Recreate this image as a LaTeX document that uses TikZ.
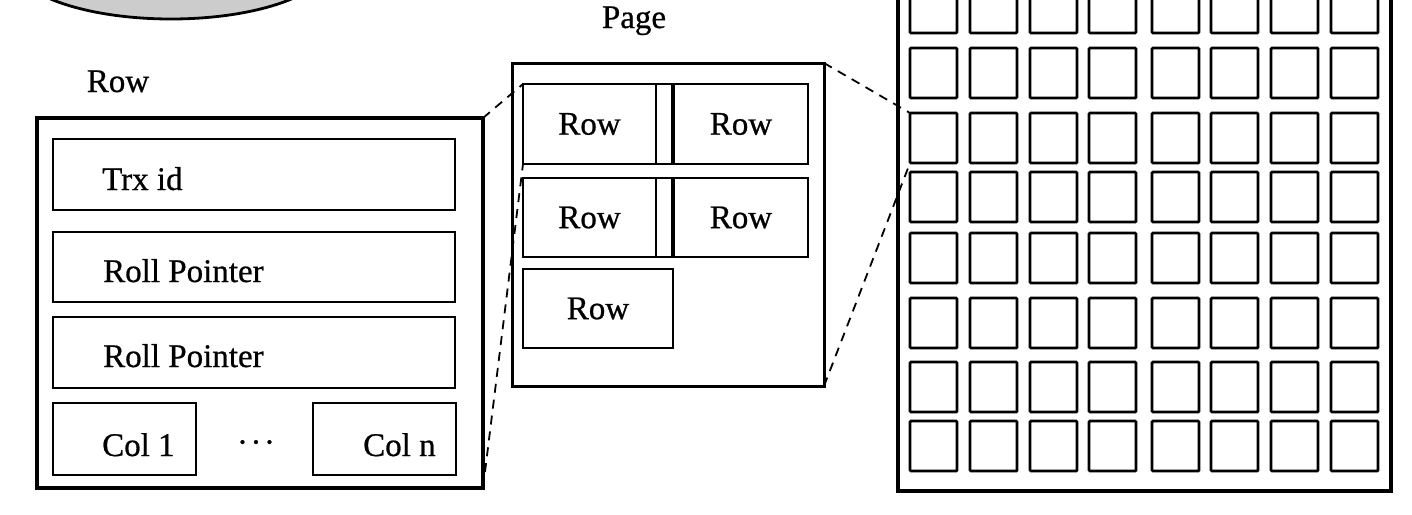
\documentclass[tikz,border=0pt]{standalone}
\usepackage{fontspec}
\setmainfont{Liberation Serif}[FakeBold=0.7]
\begin{document}
\begin{tikzpicture}[x=1pt,y=-1pt,
  outerbox/.style={draw=black, line width=3.5pt, rectangle, inner sep=0pt, outer sep=0pt, anchor=north west},
  field/.style={draw=black, line width=2.5pt, rectangle, inner sep=0pt, outer sep=0pt, anchor=north west, font=\fontsize{33}{40}\selectfont},
  gcell/.style={draw=black, line width=2.8pt, rectangle, rounded corners=1pt, inner sep=0pt, outer sep=0pt, anchor=north west, minimum width=47pt, minimum height=50pt},
  lbl/.style={inner sep=0pt, font=\fontsize{33}{40}\selectfont},
  zoomline/.style={draw=black, line width=1.8pt, dash pattern=on 9pt off 7pt}]
\useasboundingbox (0,0) rectangle (1412,514);
\clip (0,0) rectangle (1412,514);
% grey disk at top left
\filldraw[fill=gray!40, draw=black, line width=2.8pt] (171,-39.5) ellipse [x radius=160pt, y radius=58.5pt];
% Row detail
\node[lbl, anchor=base] (rowlbl) at (118,92) {Row};
\node[outerbox, minimum width=446pt, minimum height=370pt] (rowbox) at (37,118) {};
\node[field, minimum width=402pt, minimum height=71pt] (trx) at (53,139) {};
\node[field, minimum width=402pt, minimum height=70pt] (rp1) at (53,232) {};
\node[field, minimum width=402pt, minimum height=71pt] (rp2) at (53,317) {};
\node[field, minimum width=143pt, minimum height=72pt] (col1) at (53,403) {};
\node[field, minimum width=143pt, minimum height=72pt] (coln) at (313,403) {};
\node[lbl, anchor=base west] (trxt) at (102,190) {Trx id};
\node[lbl, anchor=base west] (rp1t) at (103,282) {Roll Pointer};
\node[lbl, anchor=base west] (rp2t) at (103,367) {Roll Pointer};
\node[lbl, anchor=base west] (col1t) at (102,456) {Col 1};
\node[lbl, anchor=base west] (colnt) at (363,456) {Col n};
\node[lbl, anchor=base] (dots) at (256,453) {\textperiodcentered\kern2.5pt\textperiodcentered\kern2.5pt\textperiodcentered};
% Page detail
\node[lbl, anchor=base] (pagelbl) at (634,28) {Page};
\node[outerbox, line width=3pt, minimum width=312pt, minimum height=323pt] (pagebox) at (512,63) {};
\node[field, minimum width=133pt, minimum height=80pt] (c11) at (523,84) {Row};
\node[field, minimum width=16pt, minimum height=80pt] (s1) at (656,84) {};
\node[field, minimum width=134pt, minimum height=80pt] (c12) at (674,84) {Row};
\node[field, minimum width=133pt, minimum height=79pt] (c21) at (523,178) {Row};
\node[field, minimum width=16pt, minimum height=79pt] (s2) at (656,178) {};
\node[field, minimum width=134pt, minimum height=79pt] (c22) at (674,178) {Row};
\node[field, minimum width=150pt, minimum height=79pt] (c31) at (523,269) {Row};
% Grid of pages
\node[outerbox, line width=4pt, minimum width=493pt, minimum height=511pt] (grid) at (898,-20) {};
\foreach \yy [count=\r] in {-17,48,113,172,233,298,362,421} {
  \foreach \xx [count=\c] in {910,970,1030,1089,1152,1211,1271,1331} {
    \node[gcell] (g-\r-\c) at (\xx,\yy) {};
  }
}
% zoom connectors
\draw[zoomline] (rowbox.north east) -- (c11.north west);
\draw[zoomline] (rowbox.south east) -- (c11.south west);
\draw[zoomline] (pagebox.north east) -- (g-3-1.north west);
\draw[zoomline] (pagebox.south east) -- (g-3-1.south west);
\end{tikzpicture}
\end{document}
